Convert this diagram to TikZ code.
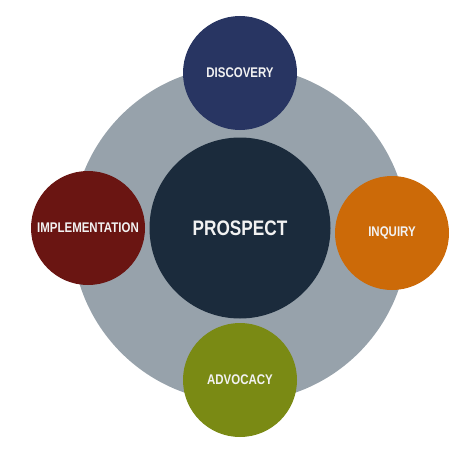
\documentclass[tikz,border=0pt]{standalone}
\usepackage{fontspec}
\setmainfont{Liberation Sans}[FakeStretch=0.82]
\definecolor{ringgray}{HTML}{97A2AB}
\definecolor{coreblue}{HTML}{1B2B3C}
\definecolor{navy}{HTML}{283562}
\definecolor{oxblood}{HTML}{6A1512}
\definecolor{amber}{HTML}{CC6A08}
\definecolor{olive}{HTML}{7A8A14}
\definecolor{labelwhite}{HTML}{F2F2F2}

\begin{document}
\begin{tikzpicture}[
  x=1pt, y=-1pt,
  ball/.style={circle, fill=#1, minimum size=114pt, inner sep=0pt,
               text=labelwhite, font=\fontsize{14}{16}\selectfont\bfseries},
  ball/.default=navy,
  core/.style={circle, fill=coreblue, minimum size=181pt, inner sep=0pt,
               text=labelwhite, font=\fontsize{21}{24}\selectfont\bfseries}]
 \useasboundingbox (0,0) rectangle (473,468);
 % background ring
 \node[circle, fill=ringgray, minimum size=336pt, inner sep=0pt] (ring) at (240,234) {};
 % centre
 \node[core] (prospect) at (240,228) {PROSPECT};
 % four stages
 \node[ball=navy]    (discovery) at (240,73)  {DISCOVERY};
 \node[ball=amber]   (inquiry)   at (392,233) {INQUIRY};
 \node[ball=olive]   (advocacy)  at (240,380) {ADVOCACY};
 \node[ball=oxblood] (implement) at (88,228)  {IMPLEMENTATION};
\end{tikzpicture}
\end{document}
